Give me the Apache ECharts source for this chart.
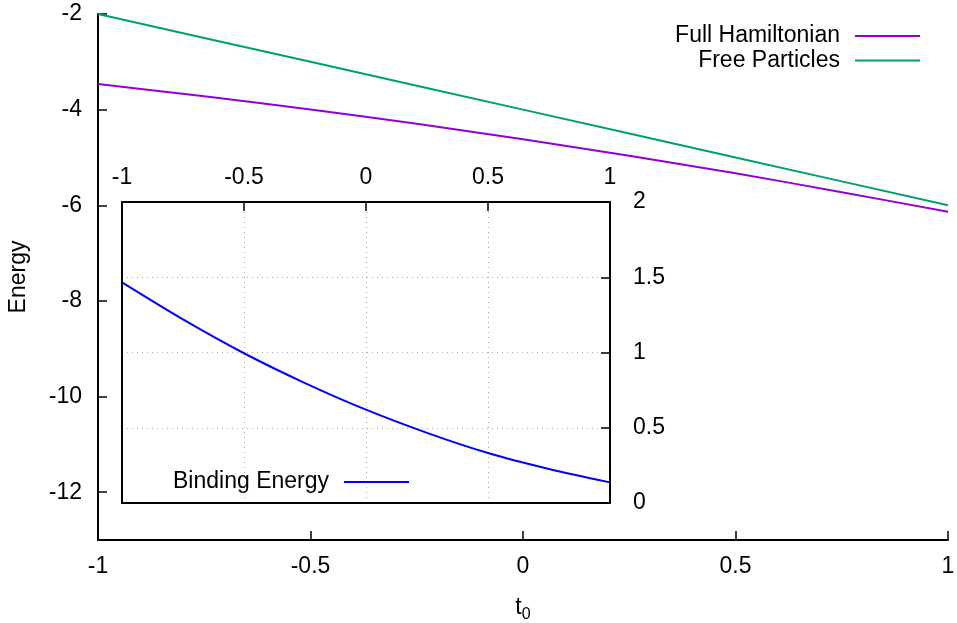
<!DOCTYPE html>
<html>
<head>
<meta charset="utf-8">
<script src="https://cdn.jsdelivr.net/npm/echarts@6/dist/echarts.min.js"></script>
<style>html,body{margin:0;padding:0;background:#fff}#c{width:957px;height:623px}</style>
</head>
<body>
<div id="c"></div>
<script>
// t0 sample positions
var t0 = [-1, -0.75, -0.5, -0.25, 0, 0.25, 0.5, 0.75, 1];
// Energies
var fullHamiltonian = [-3.466, -3.72, -3.995, -4.297, -4.62, -4.966, -5.332, -5.726, -6.137];
var freeParticles  = [-2, -2.5, -3, -3.5, -4, -4.5, -5, -5.5, -6];
var bindingEnergy  = [1.466, 1.22, 0.995, 0.797, 0.62, 0.466, 0.332, 0.226, 0.137];
var mainYTicks = [-12, -10, -8, -6, -4, -2];

function pairs(xs, ys) { return xs.map(function (x, i) { return [x, ys[i]]; }); }

var FONT = 'Liberation Sans';
var FS = 23;
var chart = echarts.init(document.getElementById('c'));
chart.setOption({
  animation: false,
  backgroundColor: '#fff',
  textStyle: { fontFamily: FONT },
  grid: [
    { left: 98, right: 9, top: 14, bottom: 83, containLabel: false, outerBoundsMode: 'none' },
    { left: 122, right: 347, top: 202, bottom: 120, show: true, backgroundColor: '#fff', borderWidth: 0, z: 10, containLabel: false, outerBoundsMode: 'none' }
  ],
  legend: [
    {
      data: ['Full Hamiltonian', 'Free Particles'],
      orient: 'vertical', right: 37, top: 24.5, align: 'right', padding: 0,
      icon: 'rect', itemWidth: 65, itemHeight: 2, itemGap: 1.5,
      textStyle: { fontSize: FS, color: '#000', fontFamily: FONT, padding: [0, 10, 0, 0] }
    },
    {
      data: ['Binding Energy'],
      orient: 'vertical', right: 548, top: 470.5, align: 'right', z: 20, padding: 0,
      icon: 'rect', itemWidth: 65, itemHeight: 2,
      textStyle: { fontSize: FS, color: '#000', fontFamily: FONT, padding: [0, 10, 0, 0] }
    }
  ],
  xAxis: [
    {
      gridIndex: 0, type: 'value', min: -1, max: 1, interval: 0.5,
      name: '{a|t}{b|0}', nameLocation: 'middle', nameGap: 52,
      nameTextStyle: { rich: { a: { fontSize: FS, fontFamily: FONT, color: '#000' }, b: { fontSize: 16, fontFamily: FONT, color: '#000', verticalAlign: 'bottom', padding: [15, 0, 0, 0] } } },
      axisLine: { show: true, onZero: false, lineStyle: { color: '#000', width: 2 } },
      axisTick: { show: true, inside: true, length: 9, lineStyle: { color: '#000', width: 1.5 } },
      axisLabel: { fontSize: FS, color: '#000', margin: 15, fontFamily: FONT },
      splitLine: { show: false }
    },
    {
      gridIndex: 1, type: 'value', position: 'top', min: -1, max: 1, interval: 0.5,
      axisLine: { show: true, onZero: false, lineStyle: { color: '#000', width: 2 } },
      axisTick: { show: true, inside: true, length: 9, lineStyle: { color: '#000', width: 1.5 } },
      axisLabel: { fontSize: FS, color: '#000', margin: 13, fontFamily: FONT },
      splitLine: { show: true, lineStyle: { color: '#aaa', type: [1, 4], width: 1 } },
      z: 12
    },
    {
      gridIndex: 1, type: 'value', position: 'bottom', min: -1, max: 1, interval: 0.5,
      axisLine: { show: true, onZero: false, lineStyle: { color: '#000', width: 2 } },
      axisTick: { show: false }, axisLabel: { show: false }, splitLine: { show: false }, z: 12
    }
  ],
  yAxis: [
    {
      gridIndex: 0, type: 'value', min: -13, max: -2,
      name: 'Energy', nameLocation: 'middle', nameGap: 68,
      nameTextStyle: { fontSize: FS, color: '#000', fontFamily: FONT },
      axisLine: { show: true, onZero: false, lineStyle: { color: '#000', width: 2 } },
      axisTick: { show: true, inside: true, length: 9, customValues: mainYTicks, lineStyle: { color: '#000', width: 1.5 } },
      axisLabel: { fontSize: FS, color: '#000', margin: 16, fontFamily: FONT, customValues: mainYTicks, padding: [6, 0, 0, 0] },
      splitLine: { show: false }
    },
    {
      gridIndex: 1, type: 'value', position: 'right', min: 0, max: 2, interval: 0.5,
      axisLine: { show: true, onZero: false, lineStyle: { color: '#000', width: 2 } },
      axisTick: { show: true, inside: true, length: 9, lineStyle: { color: '#000', width: 1.5 } },
      axisLabel: { fontSize: FS, color: '#000', margin: 23, fontFamily: FONT, padding: [8, 0, 0, 0] },
      splitLine: { show: true, lineStyle: { color: '#aaa', type: [1, 4], width: 1 } },
      z: 12
    },
    {
      gridIndex: 1, type: 'value', position: 'left', min: 0, max: 2, interval: 0.5,
      axisLine: { show: true, onZero: false, lineStyle: { color: '#000', width: 2 } },
      axisTick: { show: false }, axisLabel: { show: false }, splitLine: { show: false }, z: 12
    }
  ],
  series: [
    {
      name: 'Full Hamiltonian', type: 'line', xAxisIndex: 0, yAxisIndex: 0,
      data: pairs(t0, fullHamiltonian), smooth: 0.3, symbol: 'none',
      lineStyle: { color: '#9400d3', width: 2 }, itemStyle: { color: '#9400d3' }
    },
    {
      name: 'Free Particles', type: 'line', xAxisIndex: 0, yAxisIndex: 0,
      data: pairs(t0, freeParticles), symbol: 'none',
      lineStyle: { color: '#009e73', width: 2 }, itemStyle: { color: '#009e73' }
    },
    {
      name: 'Binding Energy', type: 'line', xAxisIndex: 1, yAxisIndex: 1,
      data: pairs(t0, bindingEnergy), smooth: 0.3, symbol: 'none', z: 15,
      lineStyle: { color: '#0000ff', width: 2 }, itemStyle: { color: '#0000ff' }
    }
  ]
});
</script>
</body>
</html>
